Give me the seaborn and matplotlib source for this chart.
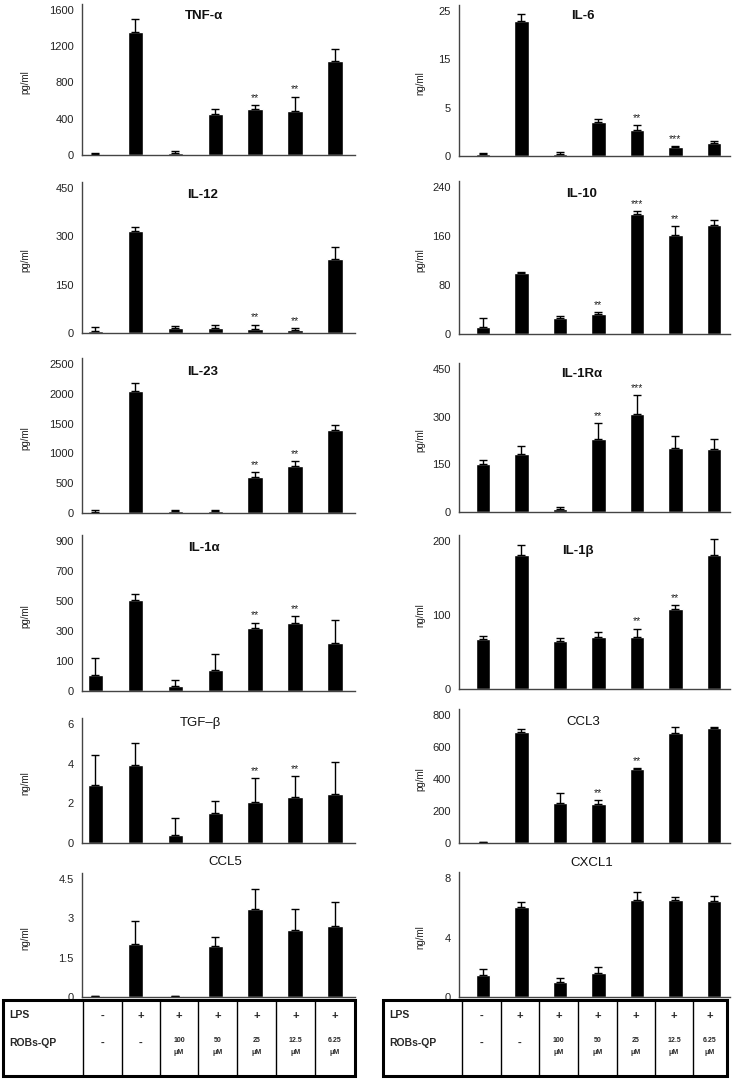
import numpy as np
import pandas as pd
import matplotlib
matplotlib.use("Agg")
import matplotlib.pyplot as plt
import seaborn as sns

# -------------------------------
# 1. Data
# -------------------------------
groups = ["ctrl", "LPS", "100", "50", "25", "12.5", "6.25"]

tnf_vals = [10, 1360, 26, 449, 508, 485, 1037]
tnf_err = [12, 140, 22, 60, 47, 160, 136]
tnf_sig = ["", "", "", "", "**", "**", ""]

il6_vals = [0.29, 23.3, 0.3, 5.86, 4.43, 1.55, 2.18]
il6_err = [0.17, 1.1, 0.4, 0.58, 0.87, 0.12, 0.41]
il6_sig = ["", "", "", "", "**", "***", ""]
il6_ticks = [0, 8.33, 16.67, 25]
il6_ticklabels = ["0", "5", "15", "25"]

il12_vals = [5, 317, 15.6, 16.6, 11.4, 9.4, 229]
il12_err = [14, 13, 6.4, 9.4, 14.6, 6.2, 37]
il12_sig = ["", "", "", "", "**", "**", ""]

il10_vals = [12, 100, 25.5, 32.6, 195.4, 162.3, 178.6]
il10_err = [13.5, 1, 3.8, 2.7, 4.9, 13.6, 8.2]
il10_sig = ["", "", "", "**", "***", "**", ""]

il23_vals = [17, 2050, 28, 28, 605, 785, 1390]
il23_err = [39, 130, 17, 17, 84, 89, 84]
il23_sig = ["", "", "", "", "**", "**", ""]

il1ra_vals = [150.7, 184, 10.5, 228.7, 308.7, 202, 198]
il1ra_err = [12.3, 23.6, 5.3, 50.3, 60.1, 38, 30.6]
il1ra_sig = ["", "", "", "**", "***", "", ""]

il1a_vals = [94, 545, 32, 126, 379, 411, 289]
il1a_err = [102, 40, 34, 94, 32, 38, 136]
il1a_sig = ["", "", "", "", "**", "**", ""]
il1a_ticks = [0, 180, 360, 540, 720, 900]
il1a_ticklabels = ["0", "100", "300", "500", "700", "900"]

il1b_vals = [67.3, 181.6, 64.6, 70, 70, 108.5, 181.6]
il1b_err = [4.4, 12.6, 4, 7, 11.6, 4.5, 21.4]
il1b_sig = ["", "", "", "", "**", "**", ""]

tgfb_vals = [2.92, 3.93, 0.39, 1.52, 2.06, 2.33, 2.45]
tgfb_err = [1.51, 1.13, 0.89, 0.59, 1.23, 1.06, 1.65]
tgfb_sig = ["", "", "", "", "**", "**", ""]

ccl3_vals = [4, 696, 249, 243, 463.6, 690, 721]
ccl3_err = [2, 15, 63, 23, 4.4, 33, 4]
ccl3_sig = ["", "", "", "**", "**", "", ""]

ccl5_vals = [0.02, 2.03, 0.02, 1.96, 3.35, 2.56, 2.71]
ccl5_err = [0, 0.85, 0, 0.32, 0.78, 0.79, 0.91]
ccl5_sig = ["", "", "", "", "", "", ""]

cxcl1_vals = [1.51, 6.04, 1.01, 1.64, 6.53, 6.53, 6.46]
cxcl1_err = [0.4, 0.33, 0.3, 0.39, 0.56, 0.16, 0.36]
cxcl1_sig = ["", "", "", "", "", "", ""]

lps_row = ["-", "+", "+", "+", "+", "+", "+"]
robs_row = ["-", "-", "100", "50", "25", "12.5", "6.25"]
conc_unit = "\u03bcM"

# -------------------------------
# 2. Figure setup
# -------------------------------
sns.set_style("white")
plt.rcParams["font.family"] = ["Liberation Sans", "DejaVu Sans"]

W, H = 737, 1079
fig = plt.figure(figsize=(W / 100, H / 100), dpi=100)

LEFT_X = (82, 355, (-0.33, 6.5), -0.19)
RIGHT_X = (459, 730, (-0.62, 6.42), -0.125)


def add_panel(col, y_top, y_zero, vals, errs, sig, top, ticks, ticklabels, ylabel):
    x0, x1, xlim, ylab_x = col
    extra = 6  # spine runs a little above the top tick
    ax = fig.add_axes([x0 / W, 1 - y_zero / H, (x1 - x0) / W, (y_zero - y_top + extra) / H])
    df = pd.DataFrame({"group": groups, "value": vals})
    sns.barplot(data=df, x="group", y="value", color="black", width=0.38,
                saturation=1, errorbar=None, ax=ax)
    xs = np.arange(len(groups))
    ax.errorbar(xs, vals, yerr=[np.zeros(len(vals)), errs], fmt="none",
                ecolor="black", elinewidth=1, capsize=3.2, capthick=1, clip_on=False)
    for i, (v, e, s) in enumerate(zip(vals, errs, sig)):
        if s:
            ax.annotate(s, (i, v + e), xytext=(0, 1.5), textcoords="offset points",
                        ha="center", va="bottom", fontsize=7.5, color="#222")
    ax.set_xlim(*xlim)
    ax.set_ylim(0, top * (y_zero - y_top + extra) / (y_zero - y_top))
    ax.set_yticks(ticks)
    ax.set_yticklabels(ticklabels)
    ax.set_xticks([])
    ax.set_xlabel("")
    ax.set_ylabel(ylabel, fontsize=7, color="#222")
    ax.yaxis.set_label_coords(ylab_x, (y_zero - y_top) / 2 / (y_zero - y_top + extra))
    ax.tick_params(axis="y", length=0, pad=6, labelsize=8, labelcolor="#222")
    for side in ["top", "right"]:
        ax.spines[side].set_visible(False)
    for side in ["left", "bottom"]:
        ax.spines[side].set_color("#444")
        ax.spines[side].set_linewidth(1)
    ax.set_facecolor("none")
    return ax


# left column
add_panel(LEFT_X, 10, 155, tnf_vals, tnf_err, tnf_sig, 1600, [0, 400, 800, 1200, 1600],
          ["0", "400", "800", "1200", "1600"], "pg/ml")
add_panel(LEFT_X, 188, 333, il12_vals, il12_err, il12_sig, 450, [0, 150, 300, 450],
          ["0", "150", "300", "450"], "pg/ml")
add_panel(LEFT_X, 364, 513, il23_vals, il23_err, il23_sig, 2500, [0, 500, 1000, 1500, 2000, 2500],
          ["0", "500", "1000", "1500", "2000", "2500"], "pg/ml")
add_panel(LEFT_X, 541, 691, il1a_vals, il1a_err, il1a_sig, 900, il1a_ticks, il1a_ticklabels, "pg/ml")
add_panel(LEFT_X, 724, 843, tgfb_vals, tgfb_err, tgfb_sig, 6, [0, 2, 4, 6],
          ["0", "2", "4", "6"], "ng/ml")
add_panel(LEFT_X, 879, 997, ccl5_vals, ccl5_err, ccl5_sig, 4.5, [0, 1.5, 3, 4.5],
          ["0", "1.5", "3", "4.5"], "ng/ml")

# right column
add_panel(RIGHT_X, 11, 156, il6_vals, il6_err, il6_sig, 25, il6_ticks, il6_ticklabels, "ng/ml")
add_panel(RIGHT_X, 187, 334, il10_vals, il10_err, il10_sig, 240, [0, 80, 160, 240],
          ["0", "80", "160", "240"], "pg/ml")
add_panel(RIGHT_X, 369, 512, il1ra_vals, il1ra_err, il1ra_sig, 450, [0, 150, 300, 450],
          ["0", "150", "300", "450"], "pg/ml")
add_panel(RIGHT_X, 541, 689, il1b_vals, il1b_err, il1b_sig, 200, [0, 100, 200],
          ["0", "100", "200"], "ng/ml")
add_panel(RIGHT_X, 715, 843, ccl3_vals, ccl3_err, ccl3_sig, 800, [0, 200, 400, 600, 800],
          ["0", "200", "400", "600", "800"], "pg/ml")
add_panel(RIGHT_X, 878, 997, cxcl1_vals, cxcl1_err, cxcl1_sig, 8, [0, 4, 8],
          ["0", "4", "8"], "ng/ml")

# -------------------------------
# 3. Overlay in pixel coordinates: titles and the treatment tables
# -------------------------------
ov = fig.add_axes([0, 0, 1, 1])
ov.set_xlim(0, W)
ov.set_ylim(H, 0)
ov.axis("off")
ov.patch.set_visible(False)

titles = [
    ("TNF-\u03b1", 204, 16, "bold"), ("IL-6", 583, 16, "bold"),
    ("IL-12", 203, 195, "bold"), ("IL-10", 582, 194, "bold"),
    ("IL-23", 203, 372, "bold"), ("IL-1R\u03b1", 582, 374, "bold"),
    ("IL-1\u03b1", 204, 548, "bold"), ("IL-1\u03b2", 578, 551, "bold"),
    ("TGF\u2013\u03b2", 200, 723, "normal"), ("CCL3", 583, 722, "normal"),
    ("CCL5", 225, 862, "normal"), ("CXCL1", 592, 863, "normal"),
]
for txt, x, y, wt in titles:
    ov.text(x, y, txt, ha="center", va="center", fontsize=9.5, fontweight=wt, color="#111")


def draw_table(edges, y0, y1):
    x_left, x_right = edges[0], edges[-1]
    ov.add_patch(plt.Rectangle((x_left, y0), x_right - x_left, y1 - y0, fill=False,
                               edgecolor="black", linewidth=2.2))
    for xe in edges[1:-1]:
        ov.plot([xe, xe], [y0, y1], color="black", linewidth=1)
    ov.text(x_left + 6, 1015, "LPS", ha="left", va="center", fontsize=7.5, fontweight="bold")
    ov.text(x_left + 6, 1043, "ROBs-QP", ha="left", va="center", fontsize=7.5, fontweight="bold")
    centers = [(a + b) / 2 for a, b in zip(edges[1:-1], edges[2:])]
    for cx, lp, rb in zip(centers, lps_row, robs_row):
        ov.text(cx, 1016, lp, ha="center", va="center", fontsize=8, fontweight="bold")
        if rb == "-":
            ov.text(cx, 1043, rb, ha="center", va="center", fontsize=8, fontweight="bold")
        else:
            ov.text(cx, 1040, rb, ha="center", va="center", fontsize=5, fontweight="bold")
            ov.text(cx, 1053, conc_unit, ha="center", va="center", fontsize=5, fontweight="bold")


draw_table([3, 83, 122, 160, 198, 237, 276, 315, 355], 1000, 1076)
draw_table([383, 462, 501, 539, 578, 617, 655, 693, 727], 1000, 1076)

fig.savefig("out.png", dpi=100, facecolor="white")
